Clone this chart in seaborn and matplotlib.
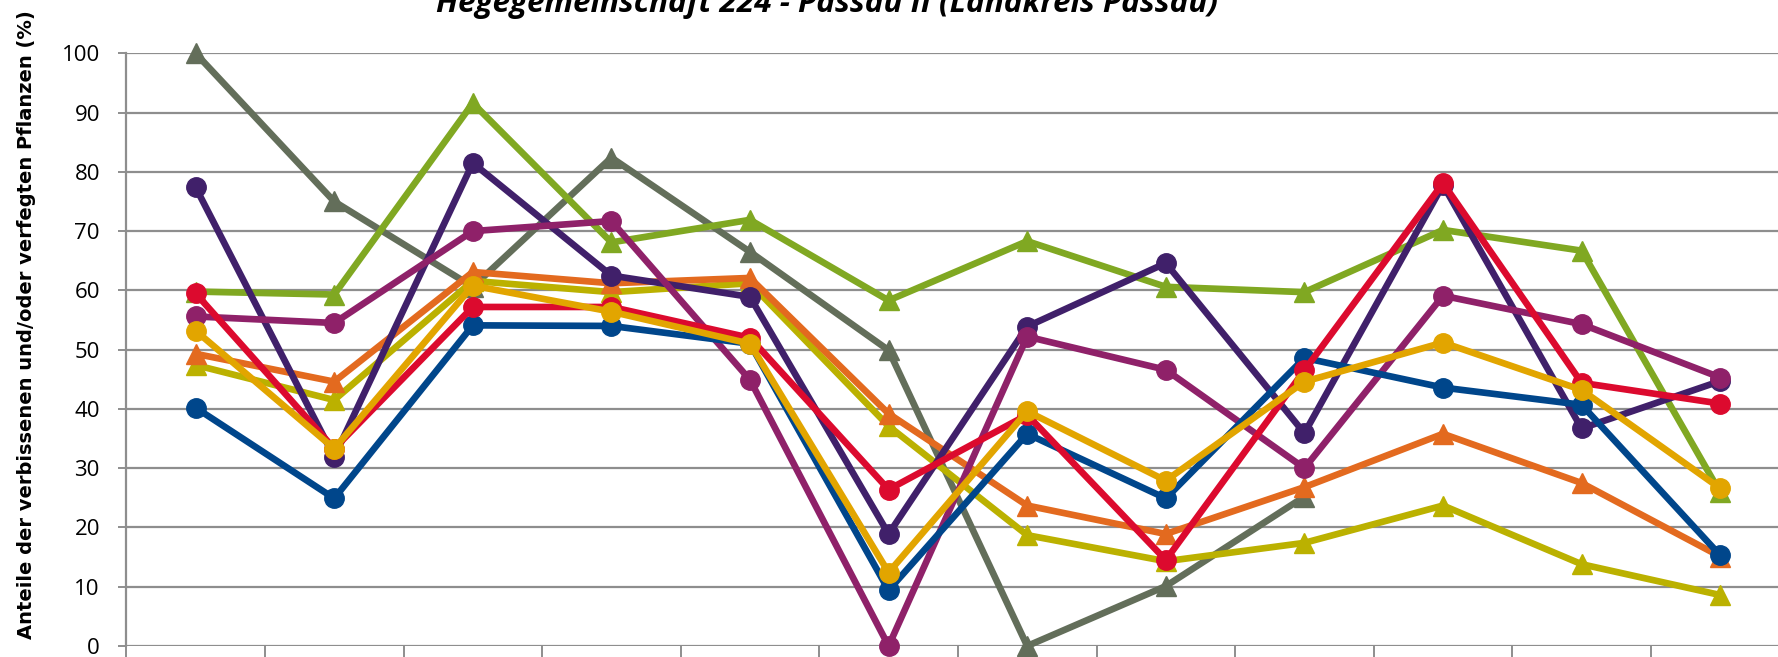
import numpy as np
import pandas as pd
import matplotlib
matplotlib.use("Agg")
import matplotlib.pyplot as plt
import seaborn as sns

# ---------------- data ----------------
categories = [f"Kategorie {i}" for i in range(1, 13)]

reihe_blau = [40.2, 24.9, 54.1, 54.0, 51.0, 9.4, 35.8, 24.9, 48.6, 43.6, 40.7, 15.3]
reihe_violett = [77.4, 31.9, 81.5, 62.5, 58.9, 18.9, 53.9, 64.6, 35.9, 77.8, 36.7, 44.7]
reihe_magenta = [55.6, 54.5, 70.0, 71.7, 44.9, 0.0, 52.2, 46.6, 30.0, 59.1, 54.3, 45.3]
reihe_rot = [59.5, 33.3, 57.2, 57.2, 52.0, 26.4, 39.0, 14.5, 46.5, 78.1, 44.4, 40.9]
reihe_gelb = [53.2, 33.3, 60.8, 56.4, 51.0, 12.4, 39.6, 27.9, 44.6, 51.2, 43.2, 26.6]
reihe_orange = [49.3, 44.6, 63.1, 61.2, 62.1, 39.2, 23.7, 18.9, 26.8, 35.8, 27.5, 15.1]
reihe_oliv = [47.4, 41.5, 61.6, 59.7, 61.2, 37.1, 18.7, 14.3, 17.4, 23.7, 13.8, 8.6]
reihe_gruen = [59.8, 59.3, 91.6, 68.1, 71.9, 58.3, 68.3, 60.6, 59.7, 70.2, 66.7, 25.9]
reihe_grau = [100.0, 75.0, 60.6, 82.4, 66.5, 49.9, 0.0, 10.1, 25.2, np.nan, np.nan, np.nan]

y_ticks = list(range(0, 101, 10))
title_text = "Hegegemeinschaft 224 - Passau II (Landkreis Passau)"
ylabel_text = "Anteile der verbissenen und/oder verfegten Pflanzen (%)"

# (name, values, color, marker, markersize) in drawing order
series = [
    ("Reihe 9", reihe_grau, "#636E5A", "^", 15),
    ("Reihe 8", reihe_gruen, "#80A822", "^", 15),
    ("Reihe 7", reihe_oliv, "#BBB100", "^", 15),
    ("Reihe 6", reihe_orange, "#E36A1F", "^", 15),
    ("Reihe 2", reihe_violett, "#40206A", "o", 14),
    ("Reihe 3", reihe_magenta, "#8F2169", "o", 14),
    ("Reihe 1", reihe_blau, "#00468B", "o", 14),
    ("Reihe 4", reihe_rot, "#DC0A2E", "o", 14),
    ("Reihe 5", reihe_gelb, "#E2A500", "o", 14),
]

# ---------------- style ----------------
sns.set_style("white")
plt.rcParams["font.family"] = ["Open Sans", "DejaVu Sans"]

W, H = 1778, 657
fig = plt.figure(figsize=(W / 100, H / 100), dpi=100)
ax = fig.add_axes([126.3 / W, (H - 646) / H, 1663.2 / W, 592.7 / H])

x = np.arange(len(categories))
for i, (name, vals, color, marker, ms) in enumerate(series):
    df = pd.DataFrame({"Kategorie": x, "Wert": vals})
    sns.lineplot(data=df, x="Kategorie", y="Wert", color=color, marker=marker,
                 markersize=ms, markeredgecolor=color, markeredgewidth=1,
                 linewidth=4.8, errorbar=None, clip_on=False, ax=ax,
                 zorder=3 + i, label=name, legend=False)

grid_col = "#8E8E8E"
ax.set_xlim(-0.5, len(categories) - 0.5)
ax.set_ylim(0, 100)
ax.set_yticks(y_ticks)
ax.set_yticklabels([str(v) for v in y_ticks])
ax.set_xticks(np.arange(-0.5, len(categories), 1.0))
ax.set_xticklabels([])
ax.set_xlabel("")
ax.set_ylabel("")
ax.yaxis.grid(True, color=grid_col, linewidth=1.6)
ax.xaxis.grid(False)
for s in ["top", "right", "bottom"]:
    ax.spines[s].set_visible(False)
ax.spines["left"].set_color(grid_col)
ax.spines["left"].set_linewidth(1.6)
ax.tick_params(axis="y", direction="out", length=6, width=1.4, color=grid_col,
               pad=13, labelsize=16, labelcolor="#000000", left=True)
ax.tick_params(axis="x", direction="out", length=10, width=1.4, color=grid_col,
               bottom=True, labelbottom=False)
for lab in ax.get_yticklabels():
    lab.set_family(["Open Sans", "DejaVu Sans"])

# title (cropped at the top like the reference)
t = fig.text(827.5 / W, 1 - 12 / H, title_text, ha="center", va="baseline",
             fontsize=22, fontweight="bold", fontstyle="italic",
             family=["Open Sans", "DejaVu Sans"], color="#000000")
# y label
yl = fig.text(27 / W, 1 - 325 / H, ylabel_text, ha="center", va="center",
              rotation=90, fontsize=13, fontweight="bold",
              family=["DejaVu Sans"], color="#000000")

# fit text sizes to the measured extents
fig.canvas.draw()
r = fig.canvas.get_renderer()
tw = t.get_window_extent(r).width
t.set_fontsize(22 * 781 / tw)
lh = yl.get_window_extent(r).height
yl.set_fontsize(13 * 626 / lh)

fig.savefig("out.png", dpi=100)
